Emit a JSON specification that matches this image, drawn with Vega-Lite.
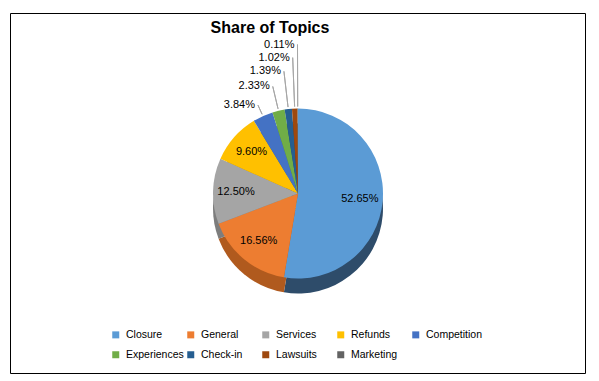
{
  "$schema": "https://vega.github.io/schema/vega-lite/v6.json",
  "width": 575,
  "height": 360,
  "autosize": {"type": "none"},
  "padding": {"left": 10.5, "top": 13.5, "right": 13.5, "bottom": 7.5},
  "background": "white",
  "config": {
    "view": {"stroke": null},
    "font": "Liberation Sans",
    "legend": {"padding": 0}
  },
  "title": {
    "text": "Share of Topics",
    "fontSize": 16,
    "fontWeight": "bold",
    "color": "black",
    "anchor": "middle",
    "dx": -28,
    "offset": -23,
    "font": "Liberation Sans"
  },
  "data": {
    "values": [
      {"topic": "Closure", "share": 52.65, "label": "52.65%"},
      {"topic": "General", "share": 16.56, "label": "16.56%"},
      {"topic": "Services", "share": 12.50, "label": "12.50%"},
      {"topic": "Refunds", "share": 9.60, "label": "9.60%"},
      {"topic": "Competition", "share": 3.84, "label": "3.84%"},
      {"topic": "Experiences", "share": 2.33, "label": "2.33%"},
      {"topic": "Check-in", "share": 1.39, "label": "1.39%"},
      {"topic": "Lawsuits", "share": 1.02, "label": "1.02%"},
      {"topic": "Marketing", "share": 0.11, "label": "0.11%"}
    ]
  },
  "layer": [
    {
      "data": {"values": [{"frame": "border"}]},
      "mark": {"type": "rect", "filled": false, "stroke": "black", "strokeWidth": 1},
      "encoding": {}
    },
    {
      "mark": {"type": "arc", "radius": 85, "yOffset": 15},
      "encoding": {
        "theta": {"field": "share", "type": "quantitative", "stack": true},
        "order": {"field": "share", "sort": "descending"},
        "color": {
          "field": "topic",
          "type": "nominal",
          "legend": null,
          "scale": {
            "domain": ["Closure", "General", "Services", "Refunds", "Competition", "Experiences", "Check-in", "Lawsuits", "Marketing"],
            "range": ["#2E4C6A", "#B05A1E", "#7D7D7D", "#C29200", "#33569A", "#548235", "#1B4670", "#76350A", "#4A4A4A"]
          }
        }
      }
    },
    {
      "mark": {"type": "arc", "radius": 85},
      "encoding": {
        "theta": {"field": "share", "type": "quantitative", "stack": true},
        "order": {"field": "share", "sort": "descending"},
        "color": {
          "field": "topic",
          "type": "nominal",
          "scale": {
            "domain": ["Closure", "General", "Services", "Refunds", "Competition", "Experiences", "Check-in", "Lawsuits", "Marketing"],
            "range": ["#5B9BD5", "#ED7D31", "#A5A5A5", "#FFC000", "#4472C4", "#70AD47", "#255E91", "#9E480E", "#636363"]
          },
          "legend": {
            "title": null,
            "orient": "none",
            "legendX": 100,
            "legendY": 316,
            "direction": "horizontal",
            "columns": 5,
            "gridAlign": "all",
            "columnPadding": 1,
            "rowPadding": 9,
            "symbolType": "square",
            "symbolSize": 49,
            "symbolStrokeWidth": 0,
            "labelFontSize": 10.5,
            "labelColor": "black",
            "labelOffset": 5,
            "labelFont": "Liberation Sans"
          }
        }
      }
    },
    {
      "mark": {"type": "arc", "padAngle": 1, "fillOpacity": 0, "stroke": "#A6A6A6", "strokeWidth": 1},
      "encoding": {
        "theta": {"field": "share", "type": "quantitative", "stack": true},
        "order": {"field": "share", "sort": "descending"},
        "radius": {
          "field": "share",
          "type": "quantitative",
          "scale": {
            "type": "linear",
            "domain": [3.84, 2.33, 1.39, 1.02, 0.11],
            "range": [97, 110, 123, 136, 149],
            "clamp": true,
            "zero": false
          }
        },
        "radius2": {"value": 87},
        "strokeOpacity": {"condition": {"test": "datum.share < 5", "value": 1}, "value": 0}
      }
    },
    {
      "mark": {"type": "text", "radius": 62, "fontSize": 11, "color": "black", "font": "Liberation Sans"},
      "encoding": {
        "theta": {"field": "share", "type": "quantitative", "stack": true},
        "order": {"field": "share", "sort": "descending"},
        "text": {"condition": {"test": "datum.share >= 5", "field": "label"}, "value": ""}
      }
    },
    {
      "mark": {"type": "text", "align": "right", "baseline": "middle", "dx": -3, "fontSize": 11, "color": "black", "font": "Liberation Sans"},
      "encoding": {
        "theta": {"field": "share", "type": "quantitative", "stack": true},
        "order": {"field": "share", "sort": "descending"},
        "radius": {
          "field": "share",
          "type": "quantitative",
          "scale": {
            "type": "linear",
            "domain": [3.84, 2.33, 1.39, 1.02, 0.11],
            "range": [97, 110, 123, 136, 149],
            "clamp": true,
            "zero": false
          }
        },
        "text": {"condition": {"test": "datum.share < 5", "field": "label"}, "value": ""}
      }
    }
  ],
  "resolve": {"scale": {"color": "independent"}}
}
